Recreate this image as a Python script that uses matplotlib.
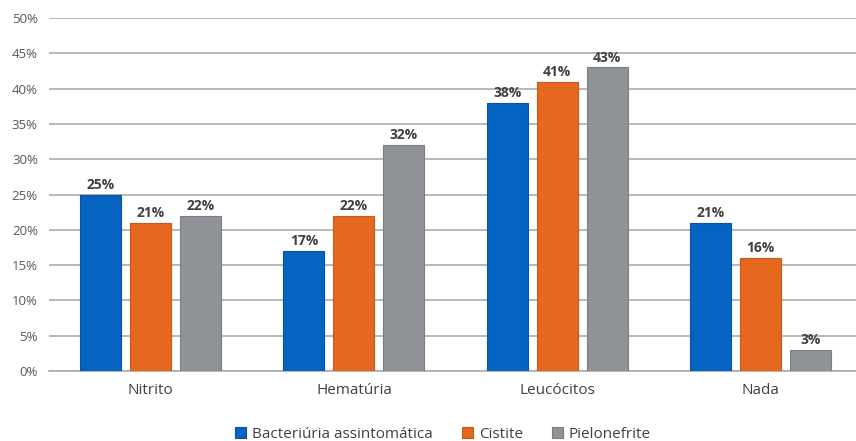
import numpy as np
import matplotlib.pyplot as plt

categories = ['Nitrito', 'Hematúria', 'Leucócitos', 'Nada']
series_names = ['Bacteriúria assintomática', 'Cistite', 'Pielonefrite']
bacteriuria = [25, 17, 38, 21]
cistite = [21, 22, 41, 16]
pielonefrite = [22, 32, 43, 3]

colors = ['#0563C1', '#E5681E', '#8F9398']
edges = ['#0554A8', '#C85A18', '#7A7E84']

plt.rcParams['font.family'] = ['Open Sans', 'DejaVu Sans']

fig = plt.figure(figsize=(8.56, 4.41), dpi=100)
ax = fig.add_axes([49 / 856, 70 / 441, 807 / 856, 353 / 441])

x = np.arange(len(categories))
width = 0.202
offset = 0.246
for i, (vals, name) in enumerate(zip([bacteriuria, cistite, pielonefrite], series_names)):
    rects = ax.bar(x + (i - 1) * offset, vals, width, color=colors[i],
                   edgecolor=edges[i], linewidth=0.8, label=name, zorder=3)
    for rect in rects:
        h = rect.get_height()
        ax.annotate('{}%'.format(h),
                    xy=(rect.get_x() + rect.get_width() / 2, h),
                    xytext=(0, 2), textcoords='offset points',
                    ha='center', va='bottom', fontsize=10,
                    fontweight='bold', color='#404040')

ax.set_xlim(-0.5, -0.5 + 807 / 203.3)
ax.set_ylim(0, 50)
ax.set_yticks(range(0, 51, 5))
ax.set_yticklabels(['{}%'.format(v) for v in range(0, 51, 5)])
ax.set_xticks(x)
ax.set_xticklabels(categories)
ax.grid(axis='y', color='#ABABAB', linewidth=1.2, zorder=0)
for s in ['top', 'right', 'left']:
    ax.spines[s].set_visible(False)
ax.spines['bottom'].set_color('#ABABAB')
ax.spines['bottom'].set_linewidth(1.2)
ax.tick_params(axis='y', length=0, pad=8, labelsize=9.5, labelcolor='#595959')
ax.tick_params(axis='x', length=0, pad=9, labelsize=11, labelcolor='#404040')

fig.legend(loc='center', bbox_to_anchor=(443 / 856, 1 - 434 / 441), ncol=3,
           frameon=False, fontsize=11, handlelength=0.7, handleheight=0.7,
           columnspacing=1.9, handletextpad=0.4, labelcolor='#404040')

fig.savefig('out.png', dpi=100)
